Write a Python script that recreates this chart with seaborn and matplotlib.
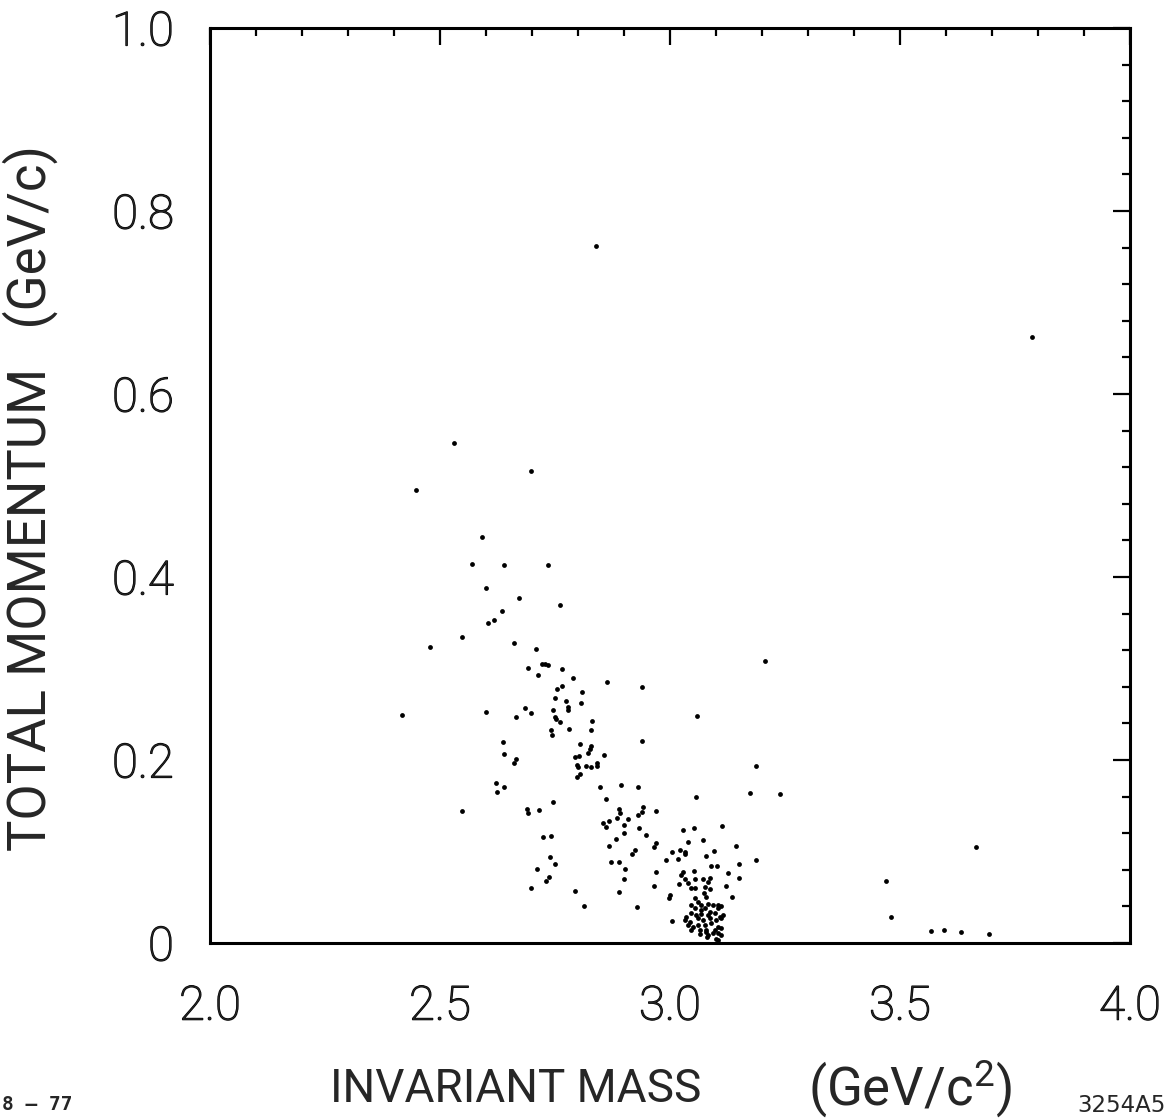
import matplotlib
matplotlib.use("Agg")
import matplotlib.pyplot as plt
import matplotlib.patheffects as pe
from matplotlib.ticker import MultipleLocator, FixedLocator
import numpy as np
import pandas as pd
import seaborn as sns

# ---------------- data (invariant mass GeV/c^2, total momentum GeV/c) ----------------
sparse_mass = [2.839, 3.787, 2.530, 2.698, 2.448, 2.591, 2.570, 2.639, 2.735, 2.600,
               2.672, 2.761, 2.635, 2.617, 2.604, 2.548, 2.478, 2.661, 2.709, 2.417,
               2.548, 3.207, 3.059, 3.057, 3.187, 3.174, 3.239, 3.470, 3.480, 3.567,
               3.596, 3.633, 3.693, 3.665]
sparse_mom = [0.762, 0.662, 0.546, 0.516, 0.495, 0.444, 0.414, 0.413, 0.413, 0.388,
              0.377, 0.369, 0.363, 0.353, 0.350, 0.334, 0.323, 0.328, 0.321, 0.249,
              0.144, 0.308, 0.248, 0.160, 0.193, 0.164, 0.163, 0.068, 0.028, 0.013,
              0.014, 0.012, 0.010, 0.105]

band_mass = [2.691, 2.722, 2.728, 2.735, 2.765, 2.713, 2.789, 2.863, 2.939, 2.600,
             2.685, 2.698, 2.665, 2.754, 2.765, 2.750, 2.774, 2.778, 2.778, 2.809,
             2.807, 2.746, 2.750, 2.752, 2.761, 2.830, 2.780, 2.741, 2.743, 2.828,
             2.637, 2.639, 2.665, 2.661, 2.804, 2.828, 2.826, 2.822, 2.802, 2.793,
             2.857, 2.798, 2.800, 2.817, 2.828, 2.841, 2.841, 2.804, 2.798, 2.939,
             2.622, 2.624, 2.639, 2.848, 2.893, 2.930, 2.861, 2.689, 2.691, 2.715,
             2.746, 2.889, 2.891, 2.885, 2.867, 2.854, 2.861, 2.909, 2.900, 2.900,
             2.930, 2.939, 2.941, 2.933, 2.948, 2.970, 2.883, 2.867, 2.724, 2.741,
             2.739, 2.750, 2.711, 2.737, 2.730, 2.698, 2.793, 2.813, 2.872, 2.889,
             2.902, 2.900, 2.889, 2.928, 2.917, 2.924, 2.965, 2.970, 2.970, 2.965]
band_mom = [0.301, 0.305, 0.305, 0.304, 0.299, 0.293, 0.290, 0.285, 0.280, 0.252,
            0.257, 0.251, 0.247, 0.278, 0.281, 0.268, 0.264, 0.258, 0.255, 0.274,
            0.262, 0.255, 0.247, 0.245, 0.242, 0.243, 0.234, 0.233, 0.227, 0.233,
            0.220, 0.207, 0.201, 0.197, 0.217, 0.215, 0.212, 0.208, 0.204, 0.203,
            0.205, 0.195, 0.192, 0.193, 0.192, 0.193, 0.197, 0.185, 0.181, 0.221,
            0.175, 0.165, 0.170, 0.170, 0.173, 0.170, 0.157, 0.146, 0.142, 0.145,
            0.154, 0.146, 0.142, 0.137, 0.133, 0.131, 0.127, 0.136, 0.129, 0.120,
            0.140, 0.143, 0.149, 0.126, 0.118, 0.144, 0.114, 0.106, 0.116, 0.117,
            0.094, 0.086, 0.081, 0.072, 0.068, 0.060, 0.057, 0.040, 0.089, 0.089,
            0.081, 0.070, 0.056, 0.039, 0.097, 0.102, 0.105, 0.109, 0.078, 0.062]

psi_mass = [2.991, 3.004, 3.017, 3.022, 3.033, 3.033, 3.028, 3.052, 3.039, 3.072,
            3.113, 3.078, 3.096, 3.089, 3.102, 3.143, 3.150, 3.150, 3.126, 3.122,
            3.135, 3.000, 2.998, 3.004, 3.187, 3.020,
            3.028, 3.052, 3.024, 3.033, 3.054, 3.072, 3.087, 3.039, 3.083, 3.076,
            3.074, 3.046, 3.054, 3.087, 3.078, 3.054, 3.061, 3.046, 3.067, 3.083,
            3.093, 3.104, 3.111, 3.054, 3.067, 3.076, 3.087, 3.104, 3.046, 3.057,
            3.067, 3.083, 3.098, 3.109, 3.115, 3.035, 3.033, 3.043, 3.061, 3.072,
            3.087, 3.100, 3.111, 3.039, 3.050, 3.061, 3.076, 3.089, 3.104, 3.111,
            3.046, 3.065, 3.078, 3.098, 3.083, 3.093, 3.104, 3.065, 3.078, 3.111,
            3.080, 3.100, 3.104]
psi_mom = [0.091, 0.099, 0.092, 0.102, 0.099, 0.097, 0.123, 0.126, 0.110, 0.113,
           0.128, 0.095, 0.101, 0.084, 0.084, 0.106, 0.086, 0.071, 0.077, 0.062,
           0.050, 0.052, 0.049, 0.024, 0.091, 0.064,
           0.078, 0.079, 0.074, 0.070, 0.070, 0.070, 0.071, 0.066, 0.067, 0.061,
           0.055, 0.060, 0.060, 0.059, 0.050, 0.049, 0.045, 0.042, 0.042, 0.043,
           0.042, 0.042, 0.040, 0.038, 0.036, 0.038, 0.034, 0.038, 0.033, 0.031,
           0.032, 0.031, 0.033, 0.028, 0.031, 0.028, 0.025, 0.023, 0.027, 0.025,
           0.027, 0.025, 0.027, 0.020, 0.017, 0.020, 0.020, 0.022, 0.017, 0.016,
           0.014, 0.014, 0.014, 0.014, 0.009, 0.011, 0.011, 0.010, 0.012, 0.009,
           0.007, 0.004, 0.003]

x_ticklabels = ["2.0", "2.5", "3.0", "3.5", "4.0"]
y_ticklabels = ["0", "0.2", "0.4", "0.6", "0.8", "1.0"]

df = pd.DataFrame({
    "mass": sparse_mass + band_mass + psi_mass,
    "momentum": sparse_mom + band_mom + psi_mom,
})

# ---------------- style ----------------
sns.set_theme(style="white")
plt.rcParams["font.family"] = ["Roboto", "DejaVu Sans"]
plt.rcParams["mathtext.fontset"] = "custom"
plt.rcParams["mathtext.rm"] = "Roboto"

fig = plt.figure(figsize=(11.75, 11.2), dpi=100)
ax = fig.add_axes([210 / 1175, 1 - 943 / 1120, 920 / 1175, 915 / 1120])

sns.scatterplot(data=df, x="mass", y="momentum", ax=ax, s=12,
                color="black", linewidth=0, legend=False)

ax.set_xlim(2.0, 4.0)
ax.set_ylim(0.0, 1.0)

ax.xaxis.set_major_locator(FixedLocator([2.0, 2.5, 3.0, 3.5, 4.0]))
ax.xaxis.set_minor_locator(MultipleLocator(0.1))
ax.yaxis.set_major_locator(FixedLocator([0.0, 0.2, 0.4, 0.6, 0.8, 1.0]))
ax.yaxis.set_minor_locator(MultipleLocator(0.04))
ax.set_xticklabels(x_ticklabels)
ax.set_yticklabels(y_ticklabels)

ax.tick_params(which="both", direction="in", top=True, right=True,
               color="black", width=1.6)
ax.tick_params(which="major", length=12)
ax.tick_params(which="minor", length=6)
ax.tick_params(axis="x", which="major", pad=30, labelsize=34)
ax.tick_params(axis="y", which="major", pad=26, labelsize=34)
for lab in ax.get_xticklabels() + ax.get_yticklabels():
    lab.set_fontweight("light")
    lab.set_path_effects([pe.withStroke(linewidth=0.9, foreground="black")])

for sp in ax.spines.values():
    sp.set_visible(True)
    sp.set_color("black")
    sp.set_linewidth(2.2)

# axis titles
ax.set_xlabel("INVARIANT MASS", fontsize=33, va="baseline")
ax.xaxis.set_label_coords((516 - 210) / 920, (943 - 1102) / 915)
ax.text((910 - 210) / 920, (943 - 1106) / 915, r"(GeV/c$\mathregular{^2}$)",
        transform=ax.transAxes, fontsize=38, ha="center", va="baseline")
ax.set_ylabel("TOTAL MOMENTUM   (GeV/c)", fontsize=38)
ax.yaxis.set_label_coords(-0.165, 0.486)

fig.text(2 / 1175, 1 - 1105 / 1120, "8 – 77", fontsize=14, fontweight="bold",
         family=["DejaVu Sans Mono", "DejaVu Sans"], va="center", ha="left")
fig.text(1166 / 1175, 1 - 1105 / 1120, "3254A5", fontsize=16.5,
         family=["DejaVu Sans", "DejaVu Sans"], va="center", ha="right")

fig.savefig("out.png", dpi=100, facecolor="white")
